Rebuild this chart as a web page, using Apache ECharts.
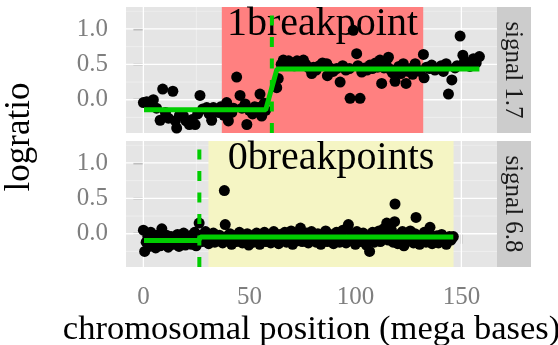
<!DOCTYPE html>
<html>
<head>
<meta charset="utf-8">
<script src="https://cdn.jsdelivr.net/npm/echarts@6/dist/echarts.min.js"></script>
<style>
  html, body { margin: 0; padding: 0; background: #ffffff; }
  #chart { width: 558px; height: 345px; }
</style>
</head>
<body>
<div id="chart"></div>
<script>
// ---- data: log-ratio probes along two chromosomes ----
// top facet (signal 1.7)
const topPos = [0, 1.6, 3.2, 4.7, 6.2, 7.9, 9.1, 10.4, 11.8, 13.9, 15.1, 15.7, 17.0, 18.9, 20.1,
  21.7, 23.0, 24.4, 25.6, 26.7, 28.0, 29.9, 31.0, 32.2, 33.0, 34.5, 35.4, 36.5, 38.0, 39.3,
  40.1, 41.7, 42.5, 44.0, 45.6, 46.5, 48.0, 48.8, 50.0, 51.5, 52.5, 54.2, 55.0, 55.8, 57.0, 57.7,
  62.9, 63.6, 65.0, 66.0, 67.1, 68.5, 70.0, 71.2, 72.5, 74.0, 75.5, 76.6, 78.0, 79.4, 80.2,
  81.5, 83.0, 84.5, 86.5, 86.8, 88.0, 89.5, 91.2, 92.8, 94.0, 95.5, 97.2, 97.5, 99.0, 100.6,
  101.2, 102.2, 103.0, 104.5, 105.5, 106.9, 108.0, 109.5, 110.5, 111.6, 112.4, 113.5, 114.5, 115.6, 116.5,
  117.5, 118.7, 119.5, 120.5, 121.5, 122.6, 123.9, 125.0, 126.0, 127.0, 128.2, 129.5, 130.5, 132.1, 132.4,
  133.5, 135.0, 136.0, 137.5, 139.2, 140.5, 141.5, 142.8, 143.9, 145.5, 147.0, 148.0, 149.4, 150.7, 151.5,
  152.5, 154.0, 155.7, 157.0, 158.5];
const topRatio = [-0.04, -0.03, -0.08, 0.00, -0.12, -0.29, 0.15, -0.18, -0.26, 0.12, -0.30, -0.40, -0.22, -0.23, -0.30,
  -0.35, -0.28, -0.35, -0.20, 0.06, -0.13, -0.11, -0.20, -0.29, -0.11, -0.15, -0.18, -0.10, -0.22, -0.04,
  -0.30, -0.18, -0.12, 0.32, 0.06, -0.12, -0.06, -0.35, -0.15, -0.20, -0.10, -0.11, 0.08, -0.23, -0.05, -0.15,
  0.17, 0.30, 0.50, 0.56, 0.52, 0.55, 0.52, 0.48, 0.55, 0.50, 0.56, 0.50, 0.45, 0.37, 0.46,
  0.42, 0.48, 0.52, 0.51, 0.34, 0.45, 0.40, 0.44, 0.25, 0.48, 0.42, 0.44, 0.02, 0.98, 0.65,
  0.48, 0.02, 0.39, 0.45, 0.42, 0.49, 0.44, 0.52, 0.46, 0.56, 0.23, 0.45, 0.50, 0.60, 0.43,
  0.38, 0.26, 0.42, 0.47, 0.37, 0.51, 0.23, 0.40, 0.44, 0.36, 0.51, 0.42, 0.40, 0.64, 0.31,
  0.46, 0.44, 0.49, 0.42, 0.45, 0.48, 0.40, 0.51, 0.08, 0.28, 0.45, 0.48, 0.90, 0.63, 0.55,
  0.50, 0.47, 0.58, 0.52, 0.61];
const topSegPos = [0.3, 57.7, 63.0, 158.5];
const topSegMean = [-0.143, -0.143, 0.433, 0.433];
const topBreak = 60.6;

// bottom facet (signal 6.8)
const bottomPos = [
  0.0, 0.6, 1.3, 2.1, 2.8, 3.5, 4.3, 5.0, 5.8, 6.5,
  7.2, 8.0, 8.7, 9.4, 10.2, 10.9, 11.7, 12.4, 13.1, 13.9,
  14.6, 15.3, 16.1, 16.8, 17.6, 18.3, 19.0, 19.8, 20.5, 21.2,
  22.0, 22.7, 23.5, 24.2, 24.9, 25.6, 26.3, 27.1, 27.8, 28.6,
  29.3, 30.0, 30.8, 31.5, 32.3, 33.0, 33.7, 34.5, 35.2, 35.9,
  36.7, 37.4, 38.2, 38.6, 39.3, 40.1, 40.8, 41.6, 42.3, 43.0,
  43.8, 44.5, 45.3, 46.0, 46.7, 47.5, 48.2, 49.0, 49.7, 50.4,
  51.2, 51.9, 52.7, 53.4, 54.1, 54.9, 55.6, 56.4, 57.1, 57.8,
  58.6, 59.3, 60.1, 60.8, 61.5, 62.3, 63.0, 63.8, 64.5, 65.2,
  66.0, 66.7, 67.5, 68.2, 68.9, 69.7, 70.4, 71.2, 71.9, 72.6,
  73.4, 74.1, 74.9, 75.6, 76.3, 77.1, 77.8, 78.6, 79.3, 80.0,
  80.8, 81.5, 82.3, 83.0, 83.7, 84.5, 85.2, 86.0, 86.7, 87.4,
  88.2, 88.9, 89.7, 90.4, 91.1, 91.9, 92.6, 93.4, 94.1, 94.8,
  95.6, 96.3, 96.7, 97.8, 98.5, 99.3, 100.0, 100.7, 101.5, 102.2,
  103.0, 103.7, 104.4, 105.2, 105.9, 106.7, 107.4, 108.1, 108.9, 109.6,
  110.4, 111.1, 111.8, 112.6, 113.3, 114.1, 114.8, 115.5, 116.3, 117.0,
  117.8, 118.5, 118.7, 119.2, 120.0, 120.7, 121.4, 122.2, 122.9, 123.7,
  124.4, 125.1, 125.9, 126.6, 127.4, 128.1, 128.6, 128.8, 129.6, 130.3,
  131.1, 131.8, 132.5, 133.3, 134.0, 134.8, 135.2, 135.5, 136.2, 137.0,
  137.7, 138.5, 139.2, 139.9, 140.7, 141.4, 142.2, 142.9, 143.6, 144.4,
  145.1, 145.7, 146.2];
const bottomRatio = [
  0.05, -0.25, -0.12, -0.04, -0.18, 0.02, -0.15, -0.08, -0.20, -0.02,
  -0.10, -0.17, 0.07, -0.06, -0.14, -0.02, -0.19, -0.09, -0.04, -0.15,
  -0.07, -0.12, -0.01, -0.18, -0.08, -0.13, 0.01, -0.16, -0.05, -0.11,
  -0.03, -0.15, -0.08, 0.02, -0.17, -0.06, 0.15, -0.02, -0.11, -0.06,
  0.03, -0.09, -0.14, -0.03, -0.07, 0.01, -0.12, -0.05, -0.10, -0.02,
  -0.08, -0.13, 0.61, 0.13, -0.04, -0.09, 0.00, -0.15, -0.06, -0.03,
  -0.11, -0.05, 0.02, -0.08, -0.13, -0.04, -0.10, 0.00, -0.16, -0.07,
  -0.03, -0.12, -0.06, 0.01, -0.09, -0.15, -0.04, -0.08, 0.02, -0.11,
  -0.06, -0.02, -0.13, -0.08, 0.03, -0.10, -0.05, -0.14, -0.01, -0.07,
  -0.09, 0.02, -0.12, -0.04, -0.08, 0.04, -0.15, -0.06, -0.02, -0.10,
  -0.05, 0.08, -0.11, -0.03, -0.07, 0.01, -0.13, -0.06, 0.03, -0.09,
  -0.04, -0.12, 0.00, -0.07, -0.15, -0.02, -0.08, 0.04, -0.11, -0.05,
  -0.01, -0.09, -0.14, -0.03, 0.02, -0.07, -0.12, -0.04, 0.05, -0.08,
  -0.13, 0.06, 0.13, -0.06, -0.10, -0.02, -0.15, 0.03, -0.07, -0.11,
  -0.04, 0.01, -0.09, -0.16, -0.05, -0.25, -0.08, 0.02, -0.12, -0.03,
  -0.07, 0.04, -0.11, -0.02, 0.07, -0.06, 0.15, -0.09, -0.03, 0.05,
  -0.12, 0.17, 0.42, -0.04, -0.14, -0.01, -0.08, 0.03, -0.17, -0.06,
  -0.02, -0.10, 0.04, -0.07, -0.13, 0.00, 0.23, -0.05, -0.09, -0.15,
  -0.03, -0.08, 0.02, -0.12, -0.05, -0.09, 0.09, -0.02, -0.14, -0.06,
  -0.10, -0.03, -0.13, -0.07, -0.01, -0.11, -0.05, -0.15, -0.08, -0.04,
  -0.09, -0.06, -0.04];
const bottomSegPos = [0.3, 26.0, 27.0, 146.2];
const bottomSegMean = [-0.094, -0.094, -0.047, -0.047];
const bottomBreak = 26.4;

// highlighted regions and their annotations
const regionStart = [37, 30.7];
const regionEnd = [132, 146.3];
const regionLabels = ['1breakpoint', '0breakpoints'];
const stripLabels = ['signal 1.7', 'signal 6.8'];

// axis ticks
const xTicks = [0, 50, 100, 150];
const xMinorTicks = [25, 75, 125];
const yTicks = [0, 0.5, 1.0];
const yMinorTicks = [-0.25, 0.25, 0.75, 1.25];

// ---- layout and styling ----
const X_MIN = -8.2, X_MAX = 166.8, Y_MIN = -0.47, Y_MAX = 1.31;
const SERIF = '"Liberation Serif", "DejaVu Serif", serif';
const GREEN = '#00CD00';
const PANEL = { left: 126, width: 371, height: 126, tops: [7, 141] };
const STRIP_W = 34;
const regionFills = ['#FF8080', '#F5F5C4'];

// grid lines, shaded region and its caption for one facet panel
function panelBackground(fill, label) {
  return function (params, api) {
    const start = api.value(0), end = api.value(1);
    const children = [];
    const hLine = (v, stroke, w) => {
      const a = api.coord([X_MIN, v]), b = api.coord([X_MAX, v]);
      children.push({ type: 'line', shape: { x1: a[0], y1: a[1], x2: b[0], y2: b[1] },
        style: { stroke: stroke, lineWidth: w } });
    };
    const vLine = (v, stroke, w) => {
      const a = api.coord([v, Y_MIN]), b = api.coord([v, Y_MAX]);
      children.push({ type: 'line', shape: { x1: a[0], y1: a[1], x2: b[0], y2: b[1] },
        style: { stroke: stroke, lineWidth: w } });
    };
    yMinorTicks.forEach(v => hLine(v, '#F2F2F2', 0.7));
    xMinorTicks.forEach(v => vLine(v, '#F2F2F2', 0.7));
    yTicks.forEach(v => hLine(v, '#FFFFFF', 1.3));
    xTicks.forEach(v => vLine(v, '#FFFFFF', 1.3));
    const tl = api.coord([start, Y_MAX]);
    const br = api.coord([end, Y_MIN]);
    children.push({ type: 'rect',
      shape: { x: tl[0], y: tl[1], width: br[0] - tl[0], height: br[1] - tl[1] },
      style: { fill: fill } });
    children.push({ type: 'text', x: (tl[0] + br[0]) / 2, y: tl[1] + 17.5,
      style: { text: label, font: '40px ' + SERIF, fill: '#000000',
        align: 'center', verticalAlign: 'middle' } });
    return { type: 'group', children: children };
  };
}

function makeAxesFor(i) {
  const isBottom = i === 1;
  return {
    x: {
      type: 'value', gridIndex: i, min: X_MIN, max: X_MAX,
      show: isBottom,
      axisLine: { show: false },
      splitLine: { show: false },
      axisTick: { show: isBottom, length: 10, customValues: xTicks,
        lineStyle: { color: '#7F7F7F', width: 1.4 } },
      axisLabel: { show: isBottom, customValues: xTicks, margin: 18,
        color: '#7F7F7F', fontSize: 25, fontFamily: SERIF,
        formatter: v => String(v) },
      name: isBottom ? 'chromosomal position (mega bases)' : '',
      nameLocation: 'middle', nameGap: 45,
      nameTextStyle: { color: '#000000', fontSize: 34.5, fontFamily: SERIF }
    },
    y: {
      type: 'value', gridIndex: i, min: Y_MIN, max: Y_MAX,
      axisLine: { show: false },
      splitLine: { show: false },
      axisTick: { show: true, length: 10, customValues: yTicks,
        lineStyle: { color: '#7F7F7F', width: 1.4 } },
      axisLabel: { customValues: yTicks, margin: 18,
        color: '#7F7F7F', fontSize: 25, fontFamily: SERIF,
        formatter: v => v.toFixed(1) }
    }
  };
}

const axes = [makeAxesFor(0), makeAxesFor(1)];
const facets = [
  { pos: topPos, ratio: topRatio, segPos: topSegPos, segMean: topSegMean, brk: topBreak },
  { pos: bottomPos, ratio: bottomRatio, segPos: bottomSegPos, segMean: bottomSegMean, brk: bottomBreak }
];

const series = [];
facets.forEach((f, i) => {
  series.push({
    type: 'custom', xAxisIndex: i, yAxisIndex: i, z: 1, silent: true,
    data: [[regionStart[i], regionEnd[i]]],
    renderItem: panelBackground(regionFills[i], regionLabels[i])
  });
  series.push({
    type: 'scatter', xAxisIndex: i, yAxisIndex: i, z: 2,
    symbol: 'circle', symbolSize: 11,
    itemStyle: { color: '#000000', opacity: 1 },
    data: f.pos.map((p, k) => [p, f.ratio[k]])
  });
  series.push({
    type: 'line', xAxisIndex: i, yAxisIndex: i, z: 3,
    symbol: 'none', lineStyle: { color: GREEN, width: 5, cap: 'butt' },
    data: f.segPos.map((p, k) => [p, f.segMean[k]])
  });
  series.push({
    type: 'line', xAxisIndex: i, yAxisIndex: i, z: 4,
    symbol: 'none', lineStyle: { color: GREEN, width: 4, type: [10, 11.5], cap: 'butt' },
    data: [[f.brk, Y_MIN], [f.brk, Y_MAX]]
  });
});

const graphics = [];
PANEL.tops.forEach((top, i) => {
  graphics.push({ type: 'rect', left: PANEL.left + PANEL.width, top: top, z: 10,
    shape: { width: STRIP_W, height: PANEL.height }, style: { fill: '#CCCCCC' } });
  graphics.push({ type: 'text', x: PANEL.left + PANEL.width + STRIP_W / 2 - 1,
    y: top + PANEL.height / 2, rotation: -Math.PI / 2, z: 11,
    style: { text: stripLabels[i], font: '25px ' + SERIF, fill: '#1A1A1A',
      align: 'center', verticalAlign: 'middle' } });
});
graphics.push({ type: 'text', x: 20, y: (PANEL.tops[0] + PANEL.tops[1] + PANEL.height) / 2,
  rotation: Math.PI / 2, z: 11,
  style: { text: 'logratio', font: '35px ' + SERIF, fill: '#000000',
    align: 'center', verticalAlign: 'middle' } });

const chart = echarts.init(document.getElementById('chart'), null, { renderer: 'canvas' });
chart.setOption({
  animation: false,
  backgroundColor: '#FFFFFF',
  grid: PANEL.tops.map(top => ({
    left: PANEL.left, top: top, width: PANEL.width, height: PANEL.height,
    show: true, backgroundColor: '#E5E5E5', borderWidth: 0,
    containLabel: false, outerBoundsMode: 'none'
  })),
  xAxis: axes.map(a => a.x),
  yAxis: axes.map(a => a.y),
  series: series,
  graphic: graphics
});
</script>
</body>
</html>
